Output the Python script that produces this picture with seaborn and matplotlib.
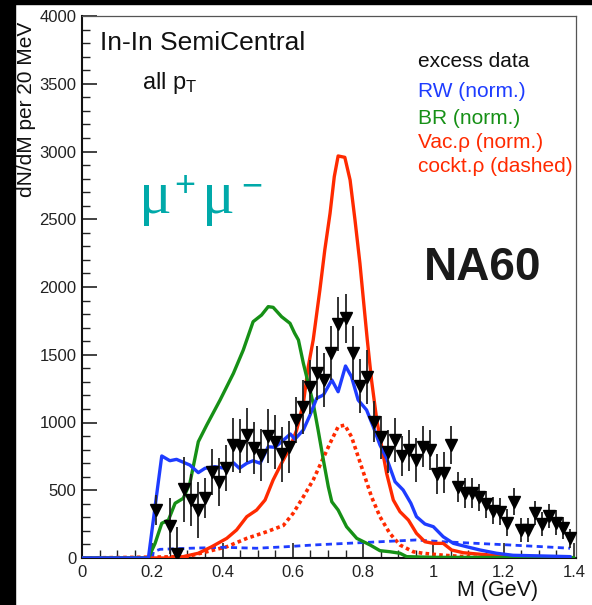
import numpy as np
import pandas as pd
import matplotlib
matplotlib.use("Agg")
import matplotlib.pyplot as plt
from matplotlib.patches import Rectangle
from matplotlib.ticker import MultipleLocator
import seaborn as sns

# ---------------- data
# excess data points, 20 MeV bins
m_data = [0.21, 0.25, 0.27, 0.29, 0.31, 0.33, 0.35, 0.37, 0.39, 0.41,
          0.43, 0.45, 0.47, 0.49, 0.51, 0.53, 0.55, 0.57, 0.59, 0.61,
          0.63, 0.65, 0.67, 0.69, 0.71, 0.73, 0.75, 0.77, 0.79, 0.81,
          0.83, 0.85, 0.87, 0.89, 0.91, 0.93, 0.95, 0.97, 0.99, 1.01,
          1.03, 1.05, 1.07, 1.09, 1.11, 1.13, 1.15, 1.17, 1.19, 1.21,
          1.23, 1.25, 1.27, 1.29, 1.31, 1.33, 1.35, 1.37, 1.39]
n_data = [354, 236, 30, 509, 428, 354, 443, 635, 561, 664,
          834, 827, 908, 812, 760, 900, 856, 764, 820, 1020,
          1114, 1262, 1365, 1314, 1515, 1724, 1770, 1513, 1267, 1333,
          1006, 891, 785, 871, 753, 795, 723, 822, 797, 620,
          630, 834, 526, 482, 482, 448, 398, 349, 342, 261,
          416, 207, 207, 334, 251, 310, 261, 219, 145]
n_err = [110, 210, 200, 240, 190, 210, 150, 170, 180, 170,
         200, 200, 200, 190, 190, 200, 200, 200, 190, 170,
         200, 200, 200, 200, 200, 200, 180, 200, 200, 200,
         150, 160, 160, 160, 150, 150, 160, 150, 150, 150,
         150, 140, 110, 110, 110, 100, 100, 100, 100, 100,
         100, 90, 90, 90, 90, 90, 90, 80, 70]

# RW (norm.)
m_rw = [0.0, 0.189, 0.208, 0.227, 0.25, 0.269, 0.307, 0.331, 0.35, 0.378,
        0.407, 0.431, 0.448, 0.469, 0.487, 0.507, 0.53, 0.549, 0.568, 0.593,
        0.606, 0.63, 0.649, 0.668, 0.687, 0.711, 0.729, 0.75, 0.767, 0.786,
        0.81, 0.829, 0.848, 0.867, 0.891, 0.914, 0.936, 0.952, 0.976, 1.0,
        1.028, 1.057, 1.095, 1.133, 1.18, 1.227, 1.31, 1.39]
n_rw = [0, 0, 379, 753, 718, 728, 686, 630, 662, 674,
        662, 703, 662, 699, 718, 699, 821, 817, 858, 915,
        877, 945, 1055, 1179, 1203, 1314, 1227, 1417, 1338, 1166,
        1092, 969, 834, 736, 563, 502, 404, 305, 251, 231,
        157, 108, 83, 59, 35, 20, 15, 10]

# blue dashed (low)
m_rwd = [0.2, 0.203, 0.222, 0.307, 0.402, 0.497, 0.58, 0.658, 0.753, 0.848,
         0.95, 1.028, 1.123, 1.218, 1.313, 1.389]
n_rwd = [0, 46, 64, 72, 79, 72, 83, 96, 108, 120,
         133, 120, 108, 96, 83, 72]

# BR (norm.)
m_br = [0.0, 0.189, 0.208, 0.227, 0.246, 0.265, 0.288, 0.307, 0.331, 0.355,
        0.393, 0.431, 0.459, 0.487, 0.511, 0.53, 0.544, 0.568, 0.592, 0.605,
        0.616, 0.63, 0.644, 0.658, 0.672, 0.687, 0.701, 0.711, 0.729, 0.753,
        0.782, 0.82, 0.848, 0.877, 0.905, 0.924, 1.0, 1.4]
n_br = [0, 0, 108, 256, 280, 404, 440, 551, 858, 981,
        1166, 1363, 1535, 1744, 1793, 1855, 1850, 1781, 1732, 1660,
        1609, 1437, 1289, 1142, 945, 723, 526, 415, 354, 231,
        145, 96, 54, 46, 35, 10, 5, 3]

# Vac.rho (norm.)
m_vac = [0.0, 0.26, 0.288, 0.331, 0.369, 0.412, 0.44, 0.469, 0.497, 0.521,
         0.544, 0.568, 0.592, 0.611, 0.63, 0.644, 0.658, 0.677, 0.691, 0.706,
         0.718, 0.729, 0.748, 0.763, 0.777, 0.791, 0.801, 0.812, 0.824, 0.839,
         0.853, 0.867, 0.886, 0.905, 0.929, 0.952, 0.976, 1.0, 1.028, 1.052,
         1.085, 1.123, 1.17, 1.246, 1.39]
n_vac = [0, 0, 10, 35, 83, 145, 207, 305, 354, 428,
         576, 699, 815, 945, 1142, 1412, 1609, 1978, 2273, 2544,
         2814, 2967, 2957, 2790, 2494, 2175, 1904, 1609, 1314, 1018,
         821, 625, 428, 342, 280, 182, 120, 108, 108, 59,
         39, 30, 20, 10, 5]

# cockt.rho (dashed)
m_cock = [0.0, 0.298, 0.355, 0.412, 0.469, 0.526, 0.573, 0.601, 0.63, 0.658,
          0.682, 0.706, 0.729, 0.748, 0.767, 0.786, 0.805, 0.824, 0.848, 0.876,
          0.905, 0.943, 0.97, 1.03, 1.12, 1.4]
n_cock = [0, 10, 46, 83, 145, 194, 240, 330, 452, 576,
          711, 847, 969, 981, 895, 748, 600, 452, 305, 182,
          96, 46, 35, 20, 5, 0]

legend_lines = ["excess data", "RW (norm.)", "BR (norm.)", "Vac.\u03c1 (norm.)", "cockt.\u03c1 (dashed)"]

c_blue = "#1e3cff"
c_green = "#169016"
c_red = "#ff2a00"
c_teal = "#00a9a9"
legend_colors = ["#111111", c_blue, c_green, c_red, c_red]

# ---------------- figure
W, H = 592, 605
sns.set_style("ticks")
plt.rcParams["font.family"] = ["Liberation Sans", "DejaVu Sans"]
plt.rcParams["mathtext.fontset"] = "custom"
plt.rcParams["mathtext.rm"] = "Liberation Sans"
plt.rcParams["mathtext.it"] = "Liberation Sans:italic"

fig = plt.figure(figsize=(W / 100, H / 100), dpi=100, facecolor="white")


def fx(px):
    return px / W


def fy(py):
    return 1 - py / H


# black frame bands (left and top)
fig.patches.append(Rectangle((0, 0), fx(15), 1, transform=fig.transFigure,
                             color="black", zorder=0))
fig.patches.append(Rectangle((0, fy(4)), 1, 1 - fy(4), transform=fig.transFigure,
                             color="black", zorder=0))

ax = fig.add_axes([fx(82), fy(558), fx(576) - fx(82), fy(16) - fy(558)])
ax.set_facecolor("white")

df_rw = pd.DataFrame({"M": m_rw, "N": n_rw})
df_rwd = pd.DataFrame({"M": m_rwd, "N": n_rwd})
df_br = pd.DataFrame({"M": m_br, "N": n_br})
df_vac = pd.DataFrame({"M": m_vac, "N": n_vac})
df_cock = pd.DataFrame({"M": m_cock, "N": n_cock})

sns.lineplot(data=df_cock, x="M", y="N", ax=ax, color=c_red, lw=2.6,
             linestyle=(0, (1, 0.9)), estimator=None, sort=False, zorder=3)
sns.lineplot(data=df_rwd, x="M", y="N", ax=ax, color=c_blue, lw=2.0,
             linestyle=(0, (2.2, 1.6)), estimator=None, sort=False, zorder=3)
sns.lineplot(data=df_vac, x="M", y="N", ax=ax, color=c_red, lw=2.4,
             estimator=None, sort=False, zorder=4)
sns.lineplot(data=df_br, x="M", y="N", ax=ax, color=c_green, lw=2.4,
             estimator=None, sort=False, zorder=4)
sns.lineplot(data=df_rw, x="M", y="N", ax=ax, color=c_blue, lw=2.4,
             estimator=None, sort=False, zorder=5)

ax.errorbar(m_data, n_data, yerr=n_err, fmt="v", color="black", ms=8,
            ecolor="#222222", elinewidth=1.3, capsize=0, zorder=6)

ax.set_xlim(0, 1.406)
ax.set_ylim(0, 4000)
ax.xaxis.set_major_locator(MultipleLocator(0.2))
ax.xaxis.set_minor_locator(MultipleLocator(0.05))
ax.yaxis.set_major_locator(MultipleLocator(500))
ax.yaxis.set_minor_locator(MultipleLocator(100))
ax.set_xticks([0, 0.2, 0.4, 0.6, 0.8, 1.0, 1.2, 1.4])
ax.set_xticklabels(["0", "0.2", "0.4", "0.6", "0.8", "1", "1.2", "1.4"])
ax.tick_params(axis="both", which="both", direction="in", top=False, right=False,
               labelsize=12, colors="#222222")
ax.tick_params(axis="y", which="major", length=11, width=1.2, pad=4)
ax.tick_params(axis="y", which="minor", length=6, width=1.0)
ax.tick_params(axis="x", which="major", length=11, width=1.2, pad=5)
ax.tick_params(axis="x", which="minor", length=6, width=1.0)
ax.set_xlabel("")
ax.set_ylabel("")
for side in ["left", "bottom"]:
    ax.spines[side].set_color("#111111")
    ax.spines[side].set_linewidth(1.5)
for side in ["top", "right"]:
    ax.spines[side].set_visible(True)
    ax.spines[side].set_color("#555555")
    ax.spines[side].set_linewidth(0.9)

# ---------------- texts
fig.text(fx(27), fy(22), "dN/dM per 20 MeV", rotation=90, ha="center", va="top",
         fontsize=15, color="#111111")
fig.text(fx(538), fy(596), "M (GeV)", ha="right", va="baseline", fontsize=15.5,
         color="#111111")
fig.text(fx(100), fy(50), "In-In SemiCentral", ha="left", va="baseline",
         fontsize=19, color="#111111")
fig.text(fx(142), fy(89), r"all p$_{\mathregular{T}}$", ha="left", va="baseline",
         fontsize=17, color="#111111")

# mu+ mu- drawn glyph by glyph
fig.text(fx(139), fy(213), "μ", ha="left", va="baseline", fontsize=44,
         color=c_teal, family="Liberation Serif")
fig.text(fx(174), fy(196), "+", ha="left", va="baseline", fontsize=26,
         color=c_teal, family="Liberation Sans")
fig.text(fx(202), fy(213), "μ", ha="left", va="baseline", fontsize=44,
         color=c_teal, family="Liberation Serif")
fig.text(fx(241), fy(196), "\u2212", ha="left", va="baseline", fontsize=26,
         color=c_teal, family="Liberation Sans")

fig.text(fx(424), fy(280), "NA60", ha="left", va="baseline", fontsize=33,
         fontweight="bold", color="#1a1a1a")

legend_y = [67, 97, 124, 148, 172]
for txt, col, yy in zip(legend_lines, legend_colors, legend_y):
    fig.text(fx(418), fy(yy), txt, ha="left", va="baseline", fontsize=15, color=col)

fig.savefig("out.png", dpi=100, facecolor="white")
